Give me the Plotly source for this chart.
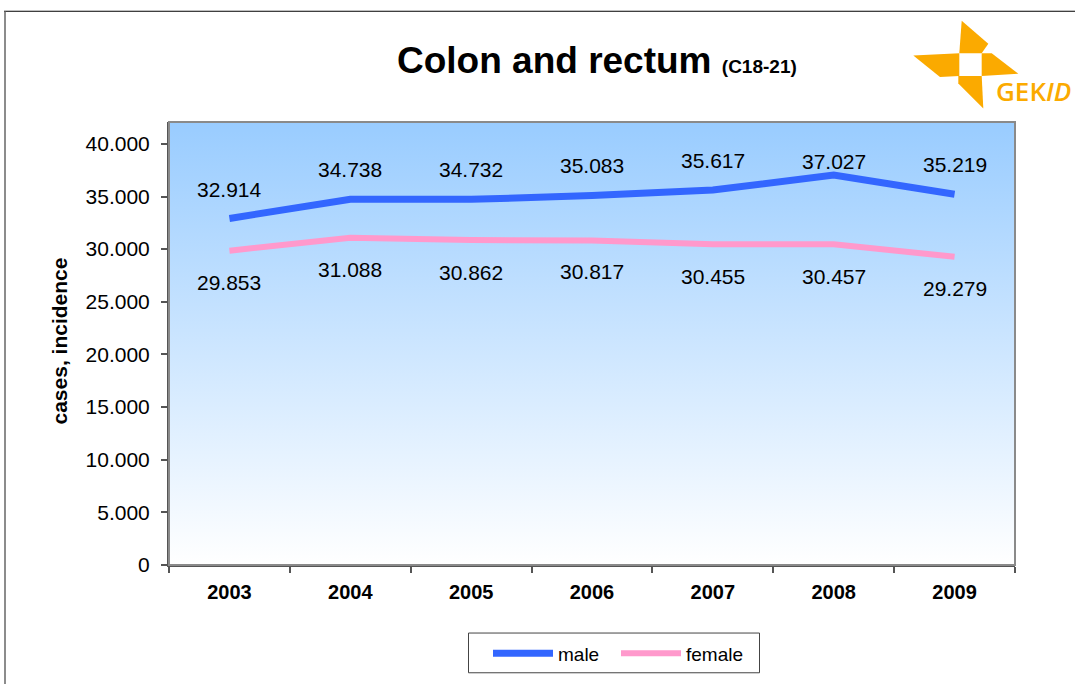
import plotly.graph_objects as go

years = ["2003", "2004", "2005", "2006", "2007", "2008", "2009"]
male = [32914, 34738, 34732, 35083, 35617, 37027, 35219]
female = [29853, 31088, 30862, 30817, 30455, 30457, 29279]
y_ticks = [0, 5000, 10000, 15000, 20000, 25000, 30000, 35000, 40000]

# label offsets (px) as placed in the original
male_label_shift = [29, 30, 30, 30, 30, 14, 30]
female_label_shift = [-32, -32, -32, -31, -32, -32, -32]

W, H = 1075, 684
L, R, T, B = 169, 1015, 122, 568
YMAX = 40000 * (B - T) / (B - 144)

def px(xp):
    return (xp - L) / (R - L)

def py(yp):
    return (B - yp) / (B - T)

def fmt(v):
    return f"{v:,}".replace(",", ".")

idx = list(range(len(years)))
FONT = "Arial, Liberation Sans"

fig = go.Figure()

# gradient background for plot area
fig.add_trace(go.Scatter(
    x=[-0.5, 6.5, 6.5, -0.5, -0.5], y=[0, 0, YMAX, YMAX, 0],
    mode="lines", line=dict(width=0), fill="toself",
    fillgradient=dict(type="vertical", colorscale=[[0, "#FFFFFF"], [1, "#99CCFF"]]),
    hoverinfo="skip", showlegend=False,
))

fig.add_trace(go.Scatter(
    x=idx, y=male, mode="lines", name="male",
    line=dict(color="#3366FF", width=7),
))
fig.add_trace(go.Scatter(
    x=idx, y=female, mode="lines", name="female",
    line=dict(color="#FF99CC", width=6),
))

annotations = []
for i, v in enumerate(male):
    annotations.append(dict(x=i, y=v, xref="x", yref="y", text=fmt(v), showarrow=False,
                            yshift=male_label_shift[i], font=dict(family=FONT, size=21, color="#000")))
for i, v in enumerate(female):
    annotations.append(dict(x=i, y=v, xref="x", yref="y", text=fmt(v), showarrow=False,
                            yshift=female_label_shift[i], font=dict(family=FONT, size=21, color="#000")))

# title
annotations.append(dict(
    x=px(597), y=py(60), xref="paper", yref="paper", showarrow=False,
    text="<b>Colon and rectum</b> <b><span style='font-size:19px'>(C18-21)</span></b>",
    font=dict(family=FONT, size=37, color="#000"),
    xanchor="center", yanchor="middle",
))
# logo text
annotations.append(dict(
    x=px(994), y=py(91), xref="paper", yref="paper", showarrow=False,
    text="GEK<i>ID</i>", xanchor="left", yanchor="middle",
    font=dict(family="Open Sans, Arial", size=26, color="#FBAA00", weight=600),
))
# y axis title
annotations.append(dict(
    x=px(60), y=py(343), xref="paper", yref="paper", showarrow=False,
    text="<b>cases, incidence</b>", textangle=-90, xanchor="center", yanchor="middle",
    font=dict(family=FONT, size=21, color="#000"),
))

shapes = []
orange = "#FBAA00"
blades = [
    [(961.7, 20), (988.3, 43.3), (981.7, 52.7), (959.3, 52.7)],
    [(913.3, 55), (959.3, 52.7), (959.3, 75.7), (940, 76.7)],
    [(981.7, 52.7), (991.7, 52.7), (1018.3, 73.3), (981.7, 75.7)],
    [(958.3, 75.7), (981.7, 75.7), (983.3, 108.3), (958.3, 83.3)],
]
for pts in blades:
    path = "M " + " L ".join(f"{px(a):.5f},{py(b):.5f}" for a, b in pts) + " Z"
    shapes.append(dict(type="path", path=path, xref="paper", yref="paper",
                       fillcolor=orange, line=dict(width=0)))

# outer frame
shapes.append(dict(type="line", xref="paper", yref="paper", x0=px(4), x1=px(1080), y0=py(10.5), y1=py(10.5),
                   line=dict(color="#000", width=1.2)))
shapes.append(dict(type="line", xref="paper", yref="paper", x0=px(5), x1=px(5), y0=py(10.5), y1=py(690),
                   line=dict(color="#666", width=1.5)))
# plot border (top/right)
shapes.append(dict(type="rect", xref="paper", yref="paper", x0=0, x1=1, y0=0, y1=1,
                   line=dict(color="#8A8A8A", width=2), layer="above"))
# legend box
shapes.append(dict(type="rect", xref="paper", yref="paper", x0=px(468.5), x1=px(759.5), y0=py(636.5), y1=py(676.5),
                   line=dict(color="#444", width=1), fillcolor="white", layer="below"))

fig.update_layout(
    width=W, height=H,
    margin=dict(l=L, r=W - R, t=T, b=H - B),
    paper_bgcolor="white", plot_bgcolor="white",
    separators=",.",
    font=dict(family=FONT, color="#000"),
    annotations=annotations, shapes=shapes,
    showlegend=True,
    legend=dict(
        orientation="h", x=px(488), y=py(657), xanchor="left", yanchor="middle",
        borderwidth=0, bgcolor="rgba(0,0,0,0)",
        font=dict(size=19, family=FONT),
        itemwidth=60, entrywidth=53, entrywidthmode="pixels", tracegroupgap=0,
    ),
    xaxis=dict(
        range=[-0.5, 6.5], tickmode="array", tickvals=idx, ticktext=[f"<b>{y}</b>" for y in years],
        ticks="", showgrid=False, zeroline=False,
        showline=True, linecolor="#555", linewidth=2,
        tickfont=dict(size=20), ticklabelstandoff=8,
        minor=dict(tickmode="array", tickvals=[i - 0.5 for i in range(8)], ticks="outside",
                   ticklen=6, tickcolor="#555", tickwidth=1.5, showgrid=False),
        fixedrange=True,
    ),
    yaxis=dict(
        range=[0, YMAX], tickmode="array", tickvals=y_ticks, tickformat=",d",
        ticks="outside", ticklen=6, tickcolor="#555", tickwidth=1.5,
        showgrid=True, gridcolor="#BEBEBE", griddash="dot", gridwidth=1,
        zeroline=False, showline=True, linecolor="#555", linewidth=2,
        tickfont=dict(size=21), ticklabelstandoff=7, fixedrange=True,
    ),
)

fig.write_html("out.html", post_script="document.body.style.margin='0';",
               config={"displayModeBar": False})
